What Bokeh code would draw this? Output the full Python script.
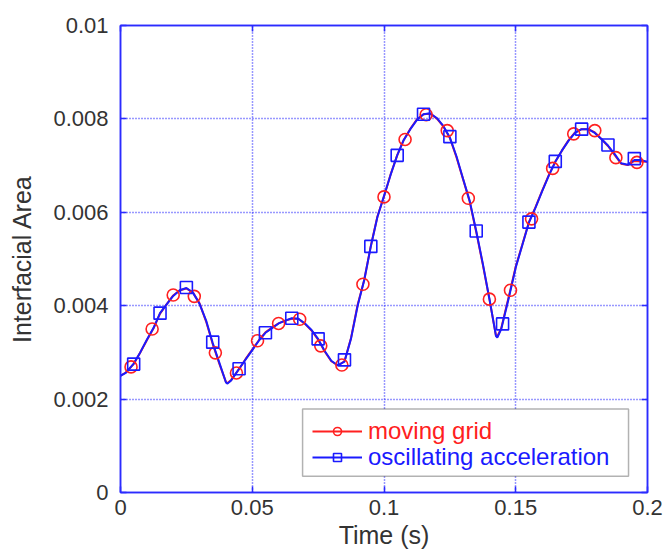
from bokeh.plotting import figure
from bokeh.models import Range1d, FixedTicker, LinearAxis, Legend, LegendItem, BoxAnnotation
from bokeh.embed import file_html
from bokeh.resources import INLINE

# ---- data ----
t_line = [0.0, 0.002, 0.005, 0.0075, 0.010, 0.0125, 0.015, 0.0175, 0.020, 0.0225,
          0.025, 0.0275, 0.030, 0.0325, 0.035, 0.0375, 0.040, 0.0405, 0.042, 0.045,
          0.0475, 0.050, 0.0525, 0.055, 0.0575, 0.060, 0.0625, 0.065, 0.0675, 0.070,
          0.0725, 0.075, 0.0775, 0.080, 0.0825, 0.085, 0.0875, 0.090, 0.0925, 0.095,
          0.0975, 0.100, 0.1025, 0.105, 0.1075, 0.110, 0.1125, 0.115, 0.1175, 0.120,
          0.1225, 0.125, 0.1275, 0.130, 0.1325, 0.135, 0.1375, 0.140, 0.1425, 0.143,
          0.1445, 0.1475, 0.150, 0.1525, 0.155, 0.1575, 0.160, 0.1625, 0.165, 0.1675,
          0.170, 0.1725, 0.175, 0.1775, 0.180, 0.1825, 0.185, 0.1875, 0.190, 0.1925,
          0.195, 0.1975, 0.200]

oscillating_line = [0.00250, 0.00256, 0.00276, 0.00300, 0.00327, 0.00352, 0.00384, 0.00403, 0.00421, 0.00433,
                    0.00438, 0.00428, 0.00404, 0.00368, 0.00320, 0.00278, 0.00236, 0.00233, 0.00240, 0.00265,
                    0.00285, 0.00305, 0.00325, 0.00342, 0.00352, 0.00362, 0.00368, 0.00373, 0.00372, 0.00362,
                    0.00348, 0.00329, 0.00303, 0.00282, 0.00272, 0.00280, 0.00330, 0.00400, 0.00455, 0.00527,
                    0.00590, 0.00635, 0.00680, 0.00722, 0.00755, 0.00778, 0.00798, 0.00810, 0.00812, 0.00802,
                    0.00785, 0.00760, 0.00720, 0.00672, 0.00625, 0.00560, 0.00490, 0.00415, 0.00335, 0.00332,
                    0.00350, 0.00420, 0.00482, 0.00530, 0.00578, 0.00610, 0.00645, 0.00678, 0.00708, 0.00732,
                    0.00753, 0.00770, 0.00778, 0.00778, 0.00770, 0.00757, 0.00743, 0.00725, 0.00705, 0.00702,
                    0.00712, 0.00712, 0.00708]

moving_line = [0.00250, 0.00257, 0.00275, 0.00300, 0.00326, 0.00351, 0.00383, 0.00403, 0.00422, 0.00433,
               0.00437, 0.00428, 0.00405, 0.00366, 0.00318, 0.00276, 0.00237, 0.00234, 0.00241, 0.00264,
               0.00286, 0.00306, 0.00326, 0.00343, 0.00353, 0.00362, 0.00368, 0.00372, 0.00372, 0.00361,
               0.00347, 0.00327, 0.00302, 0.00281, 0.00272, 0.00281, 0.00331, 0.00402, 0.00455, 0.00528,
               0.00591, 0.00634, 0.00681, 0.00722, 0.00755, 0.00779, 0.00799, 0.00810, 0.00811, 0.00801,
               0.00784, 0.00759, 0.00718, 0.00671, 0.00623, 0.00558, 0.00488, 0.00414, 0.00336, 0.00334,
               0.00352, 0.00423, 0.00484, 0.00531, 0.00579, 0.00611, 0.00646, 0.00679, 0.00708, 0.00732,
               0.00754, 0.00771, 0.00778, 0.00778, 0.00771, 0.00757, 0.00742, 0.00723, 0.00704, 0.00701,
               0.00710, 0.00709, 0.00708]

t_moving = [0.004, 0.012, 0.020, 0.028, 0.036, 0.044, 0.052, 0.060, 0.068, 0.076,
            0.084, 0.092, 0.100, 0.108, 0.116, 0.124, 0.132, 0.140, 0.148, 0.156,
            0.164, 0.172, 0.180, 0.188, 0.196]
area_moving = [0.00269, 0.00350, 0.00423, 0.00420, 0.00299, 0.00256, 0.00325, 0.00362, 0.00371, 0.00314,
               0.00273, 0.00446, 0.00633, 0.00756, 0.00809, 0.00775, 0.00630, 0.00414, 0.00433, 0.00586,
               0.00694, 0.00768, 0.00775, 0.00717, 0.00707]

t_osc = [0.005, 0.015, 0.025, 0.035, 0.045, 0.055, 0.065, 0.075, 0.085, 0.095,
         0.105, 0.115, 0.125, 0.135, 0.145, 0.155, 0.165, 0.175, 0.185, 0.195]
area_osc = [0.00275, 0.00384, 0.00439, 0.00322, 0.00265, 0.00342, 0.00373, 0.00329, 0.00284, 0.00527,
            0.00722, 0.00810, 0.00762, 0.00560, 0.00361, 0.00579, 0.00709, 0.00778, 0.00744, 0.00715]

x_ticks = [0, 0.05, 0.1, 0.15, 0.2]
x_tick_labels = ["0", "0.05", "0.1", "0.15", "0.2"]
y_ticks = [0, 0.002, 0.004, 0.006, 0.008, 0.01]
y_tick_labels = ["0", "0.002", "0.004", "0.006", "0.008", "0.01"]

# ---- styling ----
BLUE = "#1a1aff"
RED = "#ff2020"
FRAME = "#2b2bff"
GRID = "#3030ff"
TXT = "#333333"
FONT = "Liberation Sans"

p = figure(width=672, height=553, output_backend="svg", toolbar_location=None,
           x_range=Range1d(0, 0.2), y_range=Range1d(0, 0.01),
           min_border_left=120, min_border_right=25, min_border_top=25, min_border_bottom=61,
           x_axis_label="Time (s)", y_axis_label="Interfacial Area")
p.background_fill_color = "white"
p.border_fill_color = "white"
p.outline_line_color = FRAME
p.outline_line_width = 1.5

def style_axis(ax, ticks, labels, show_labels=True):
    ax.ticker = FixedTicker(ticks=ticks)
    ax.major_label_overrides = {t: l for t, l in zip(ticks, labels)}
    ax.axis_line_color = FRAME
    ax.axis_line_width = 1.5
    ax.major_tick_line_color = FRAME
    ax.major_tick_line_width = 1.5
    ax.major_tick_in = 6
    ax.major_tick_out = 0
    ax.minor_tick_line_color = None
    ax.major_label_text_font = FONT
    ax.major_label_text_font_size = "22px"
    ax.major_label_text_color = TXT
    ax.axis_label_text_font = FONT
    ax.axis_label_text_font_size = "25px"
    ax.axis_label_text_font_style = "normal"
    ax.axis_label_text_color = TXT
    if not show_labels:
        ax.major_label_text_alpha = 0
        ax.major_label_text_font_size = "1px"

style_axis(p.xaxis[0], x_ticks, x_tick_labels)
style_axis(p.yaxis[0], y_ticks, y_tick_labels)
p.xaxis[0].major_label_standoff = 7
p.xaxis[0].axis_label_standoff = 3
p.yaxis[0].major_label_standoff = 12
p.yaxis[0].axis_label_standoff = 14

ax_top = LinearAxis()
style_axis(ax_top, x_ticks, x_tick_labels, show_labels=False)
p.add_layout(ax_top, "above")
ax_right = LinearAxis()
style_axis(ax_right, y_ticks, y_tick_labels, show_labels=False)
p.add_layout(ax_right, "right")

p.xgrid.ticker = FixedTicker(ticks=x_ticks)
p.ygrid.ticker = FixedTicker(ticks=y_ticks)
for g in (p.xgrid, p.ygrid):
    g.grid_line_color = GRID
    g.grid_line_dash = "1 2"
    g.grid_line_width = 1.5

# ---- series ----
r_line = p.line(t_line, moving_line, line_color=RED, line_width=2)
b_line = p.line(t_line, oscillating_line, line_color=BLUE, line_width=2)
r_mark = p.scatter(t_moving, area_moving, marker="circle", size=12, fill_color=None,
                   line_color=RED, line_width=1.6)
b_mark = p.scatter(t_osc, area_osc, marker="square", size=12, fill_color=None,
                   line_color=BLUE, line_width=1.6)

# ---- legend (box + two coloured entries) ----
box = BoxAnnotation(left=0.0691, right=0.1928, bottom=0.00035, top=0.00179,
                    fill_color="white", fill_alpha=1.0, line_color="black", line_width=1.5)
p.add_layout(box)

def make_legend(label, rends, color, loc):
    lg = Legend(items=[LegendItem(label=label, renderers=rends)], location=loc,
                border_line_alpha=0, background_fill_alpha=0,
                label_text_color=color, label_text_font=FONT, label_text_font_size="24px",
                glyph_width=50, glyph_height=20, label_height=24, label_standoff=6,
                padding=0, margin=0, spacing=0)
    return lg

p.add_layout(make_legend("moving grid", [r_line, r_mark], RED, (192, 47)))
p.add_layout(make_legend("oscillating acceleration", [b_line, b_mark], BLUE, (192, 21)))

open("out.html", "w").write(file_html(p, INLINE))
